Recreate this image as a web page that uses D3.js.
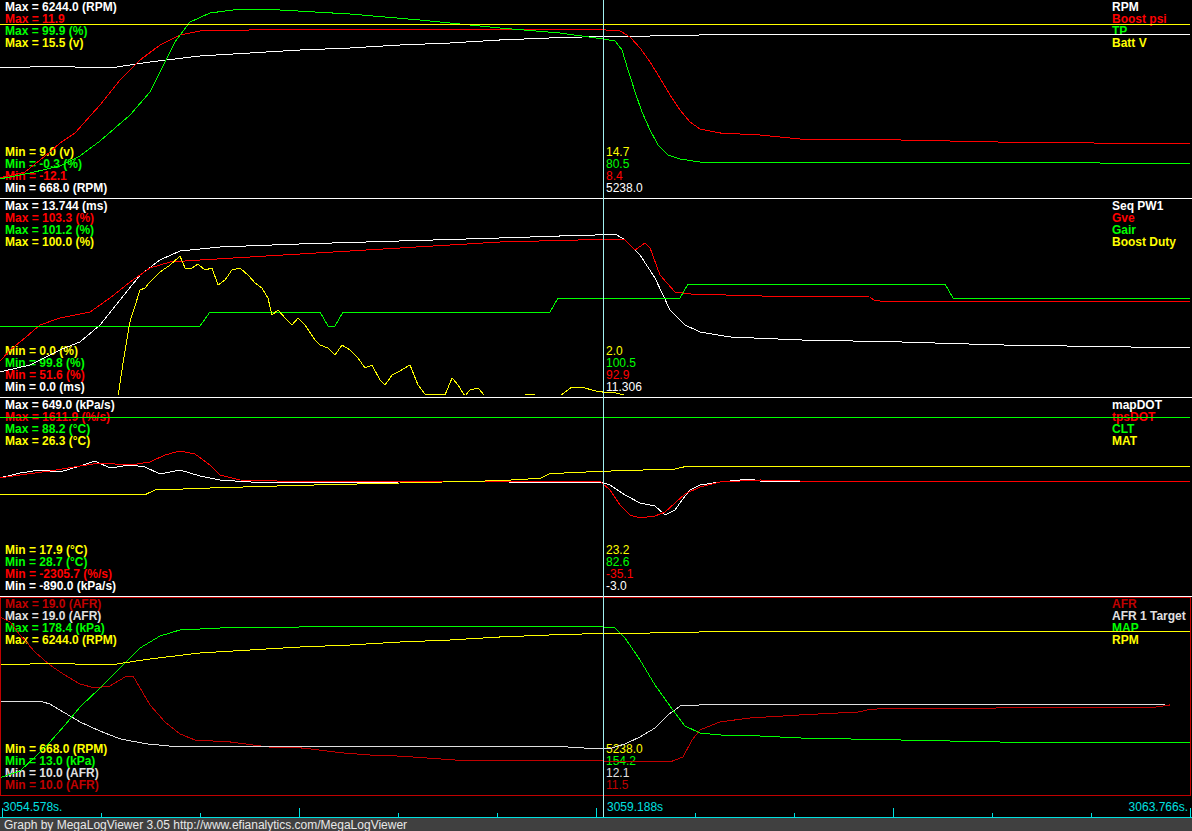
<!DOCTYPE html>
<html><head><meta charset="utf-8">
<script src="https://cdn.jsdelivr.net/npm/d3@7"></script>
<style>
html,body{margin:0;padding:0;background:#000;overflow:hidden;}
svg{display:block;}
text{font-family:"Liberation Sans",Arial,sans-serif;font-size:12px;}
</style></head><body>
<svg id="c" width="1192" height="831"></svg>
<script>
// ---- time axis ----
const startTime = 3054.578;
const cursorTime = 3059.188;
const endTime = 3063.766;
const timeLabels = ["3054.578s.", "3059.188s", "3063.766s."];
const footerText = "Graph by MegaLogViewer 3.05 http://www.efianalytics.com/MegaLogViewer";

// ---- panel 1 : [seconds after start, value] ----
const rpm = [[-0.02,4338],[0.215,4366],[0.445,4395],[0.675,4338],[0.828,4338],[1.135,4509],[1.519,4680],[1.902,4765],[2.286,4850],[2.669,4907],[3.053,4992],[3.436,5049],[3.820,5135],[4.203,5192],[4.610,5238],[4.971,5248],[5.354,5277],[6.121,5277],[6.888,5277],[7.655,5305],[9.113,5305]];
const boostPsi = [[-0.02,-9.77],[0.176,-9.04],[0.368,-6.59],[0.445,-5.49],[0.560,-4.26],[0.752,-0.83],[0.905,2.23],[1.059,4.68],[1.212,6.51],[1.365,7.74],[1.519,8.23],[1.902,8.35],[3.053,8.4],[4.587,8.4],[4.741,8.23],[4.817,7.49],[4.894,6.15],[4.971,4.43],[5.047,2.47],[5.124,0.39],[5.201,-1.45],[5.277,-2.92],[5.354,-3.77],[5.507,-4.26],[5.814,-4.51],[6.121,-5.0],[6.888,-5.12],[7.655,-5.37],[9.113,-5.61]];
const tp = [[-0.02,8.9],[0.215,11.97],[0.445,15.55],[0.598,20.66],[0.752,28.33],[0.982,41.62],[1.135,53.38],[1.212,63.6],[1.327,78.94],[1.442,89.16],[1.595,93.76],[1.826,95.8],[2.132,95.3],[2.669,93.25],[3.206,90.18],[3.820,86.09],[4.280,83.54],[4.610,80.5],[4.703,79.45],[4.756,74.85],[4.802,64.62],[4.856,53.38],[4.909,43.15],[4.971,33.95],[5.032,26.28],[5.109,21.17],[5.201,19.13],[5.354,17.59],[5.737,17.08],[6.121,17.59],[7.655,17.59],[8.422,17.08],[9.113,16.57]];
const battV = [[-0.02,14.72],[4.610,14.72],[9.113,14.72]];

// ---- panel 2 ----
const seqPW1 = [[-0.02,1.68],[0.215,2.17],[0.445,3.23],[0.598,3.79],[0.752,4.98],[0.905,6.73],[1.059,8.48],[1.212,9.54],[1.365,10.17],[1.672,10.45],[2.286,10.66],[3.053,10.87],[3.820,11.08],[4.280,11.22],[4.587,11.30],[4.703,11.36],[4.779,10.94],[4.894,9.89],[5.009,8.27],[5.124,6.03],[5.239,4.98],[5.354,4.49],[5.584,4.14],[6.121,3.93],[6.888,3.79],[7.655,3.58],[9.113,3.37]];
const gve = [[-0.02,60.57],[0.061,63.73],[0.176,66.9],[0.291,70.33],[0.445,72.17],[0.675,73.76],[0.828,77.45],[0.982,81.67],[1.135,85.36],[1.289,86.95],[1.519,87.47],[2.286,89.06],[3.053,90.64],[3.820,92.22],[4.587,92.9],[4.779,92.75],[4.856,90.11],[4.932,91.96],[4.971,90.64],[5.047,83.52],[5.162,79.03],[5.277,78.51],[5.814,77.98],[6.658,77.71],[6.696,76.66],[9.113,76.4]];
const gair = [[-0.02,100.3],[1.519,100.3],[1.595,100.4],[2.439,100.4],[2.501,100.3],[2.554,100.3],[2.616,100.4],[4.203,100.4],[4.265,100.5],[5.201,100.5],[5.262,100.6],[7.233,100.6],[7.295,100.5],[9.113,100.5]];
const boostDuty = [[-0.02,0],[0.890,0],[0.936,20],[0.982,38],[1.059,54.1],[1.097,55.1],[1.135,58.2],[1.212,63.3],[1.289,66.8],[1.365,71.4],[1.404,65.3],[1.457,65.3],[1.503,67.3],[1.557,64.3],[1.611,65.3],[1.657,56.6],[1.711,59.2],[1.764,64.3],[1.826,65.3],[1.887,61.7],[1.941,57.7],[1.994,55.1],[2.040,50.0],[2.071,41.3],[2.117,43.9],[2.171,39.8],[2.224,36.2],[2.271,39.8],[2.324,36.2],[2.401,28.6],[2.439,26.0],[2.501,24.5],[2.554,20.9],[2.608,26.0],[2.669,23.5],[2.731,19.4],[2.784,14.3],[2.838,15.8],[2.899,8.2],[2.938,5.6],[2.992,10.7],[3.037,12.2],[3.091,14.3],[3.130,15.8],[3.191,5.6],[3.245,1.0],[3.321,1.0],[3.398,0.5],[3.452,9.2],[3.498,5.6],[3.551,0],[3.590,3.1],[3.651,4.1],[3.705,0],[3.973,0],[4.050,1.0],[4.127,0],[4.280,0],[4.372,4.6],[4.472,4.1],[4.549,2.6],[4.610,2.0],[4.718,1.5],[4.795,0],[9.113,0]];

// ---- panel 3 ----
const mapDOT = [[-0.02,28.7],[0.138,67.9],[0.291,91.5],[0.445,75.8],[0.598,122.9],[0.713,162.2],[0.828,107.2],[0.982,130.8],[1.097,115.1],[1.212,60.1],[1.365,91.5],[1.519,44.4],[1.672,13],[1.902,-2.7],[2.286,-10.6],[3.053,-2.7],[3.820,-2.7],[4.587,-3.0],[4.664,-26.3],[4.779,-104.8],[4.894,-167.6],[5.009,-191.2],[5.086,-261.8],[5.162,-222.6],[5.216,-144.1],[5.277,-65.5],[5.354,-26.3],[5.507,-2.7],[5.737,20.8],[5.814,5.1],[6.121,-2.7],[7.655,5.1],[9.113,5.1]];
const tpsDOT = [[-0.02,32.9],[0.138,92.9],[0.368,172.8],[0.598,272.8],[0.752,332.7],[0.982,292.7],[1.135,352.7],[1.250,492.6],[1.365,572.6],[1.480,512.6],[1.595,292.7],[1.672,92.9],[1.826,-7.1],[2.286,-40],[4.587,-35.1],[4.664,-207],[4.741,-506.8],[4.817,-706.7],[4.894,-766.6],[5.009,-726.6],[5.086,-646.7],[5.162,-466.8],[5.239,-286.9],[5.354,-147],[5.507,-47.1],[5.814,-7.1],[6.121,-27.1],[9.113,-27.1]];
const clt = [[-0.02,82.6],[4.610,82.6],[9.113,82.6]];
const mat = [[-0.02,22.2],[1.097,22.2],[1.174,22.4],[1.672,22.5],[2.286,22.6],[3.053,22.7],[3.820,22.8],[4.127,22.9],[4.203,23.1],[4.587,23.2],[5.162,23.3],[5.239,23.4],[9.113,23.4]];

// ---- panel 4 ----
const afr = [[-0.02,18.13],[0.061,17.9],[0.138,17.3],[0.253,16.52],[0.368,15.92],[0.483,15.46],[0.598,15.05],[0.713,14.87],[0.828,14.96],[0.943,15.37],[1.005,15.42],[1.059,14.87],[1.135,14.09],[1.250,13.31],[1.365,12.76],[1.480,12.48],[1.749,12.39],[2.040,12.16],[2.309,12.11],[2.623,11.88],[2.823,11.79],[3.053,11.74],[3.475,11.56],[4.587,11.52],[4.848,11.47],[5.124,11.47],[5.224,11.7],[5.293,12.48],[5.354,12.94],[5.507,13.31],[5.737,13.49],[6.121,13.63],[6.581,13.77],[6.658,13.9],[7.655,13.95],[8.652,13.99],[8.806,13.95],[8.959,14.09]];
const afrTarget = [[-0.02,14.27],[0.291,14.27],[0.368,14.13],[0.483,13.72],[0.598,13.31],[0.752,12.89],[0.905,12.53],[1.112,12.3],[1.289,12.2],[4.226,12.2],[4.572,12.07],[4.679,12.11],[4.779,12.3],[4.894,12.62],[5.009,13.03],[5.109,13.63],[5.201,14.04],[5.354,14.09],[8.921,14.09]];
const mapKpa = [[-0.02,26.5],[0.138,32.41],[0.253,44.22],[0.368,56.88],[0.483,71.23],[0.598,86.42],[0.752,102.45],[0.905,119.33],[1.059,136.21],[1.212,146.33],[1.365,151.4],[1.672,153.08],[2.286,153.93],[3.436,153.93],[4.587,154.2],[4.703,153.08],[4.779,144.65],[4.894,126.08],[5.009,104.98],[5.124,87.26],[5.239,70.38],[5.354,64.48],[5.507,62.79],[5.814,61.95],[6.121,60.26],[6.888,58.57],[7.655,56.88],[9.113,56.88]];

// ---- labels ----
const p1Names = ["RPM","Boost psi","TP","Batt V"];
const p1Max = ["6244.0","11.9","99.9","15.5"];
const p1Min = ["668.0","-12.1","-0.3","9.0"];
const p1Units = ["RPM","","%","v"];
const p1Cursor = ["5238.0","8.4","80.5","14.7"];

const p2Names = ["Seq PW1","Gve","Gair","Boost Duty"];
const p2Max = ["13.744","103.3","101.2","100.0"];
const p2Min = ["0.0","51.6","99.8","0.0"];
const p2Units = ["ms","%","%","%"];
const p2Cursor = ["11.306","92.9","100.5","2.0"];

const p3Names = ["mapDOT","tpsDOT","CLT","MAT"];
const p3Max = ["649.0","1611.9","88.2","26.3"];
const p3Min = ["-890.0","-2305.7","28.7","17.9"];
const p3Units = ["kPa/s","%/s","°C","°C"];
const p3Cursor = ["-3.0","-35.1","82.6","23.2"];

const p4Names = ["AFR","AFR 1 Target","MAP","RPM"];
const p4Max = ["19.0","19.0","178.4","6244.0"];
const p4Min = ["10.0","10.0","13.0","668.0"];
const p4Units = ["AFR","AFR","kPa","RPM"];
const p4Cursor = ["11.5","12.1","154.2","5238.0"];

const stdColors = ["#ffffff","#ff0000","#00ff00","#ffff00"];
const p4Colors = ["#c00000","#e0e0e0","#00ff00","#ffff00"];

const panels = [
  {names:p1Names,max:p1Max,min:p1Min,units:p1Units,cursor:p1Cursor,colors:stdColors,series:[rpm,boostPsi,tp,battV]},
  {names:p2Names,max:p2Max,min:p2Min,units:p2Units,cursor:p2Cursor,colors:stdColors,series:[seqPW1,gve,gair,boostDuty]},
  {names:p3Names,max:p3Max,min:p3Min,units:p3Units,cursor:p3Cursor,colors:stdColors,series:[mapDOT,tpsDOT,clt,mat]},
  {names:p4Names,max:p4Max,min:p4Min,units:p4Units,cursor:p4Cursor,colors:p4Colors,series:[afr,afrTarget,mapKpa,rpm]}
];

const W = 1192, PH = 199;
const svg = d3.select("#c");
svg.append("rect").attr("width",W).attr("height",831).attr("fill","#000");
const defs = svg.append("defs");

const x = d3.scaleLinear().domain([startTime, cursorTime]).range([2, 603]);
const xAxis = d3.scaleLinear().domain([startTime, endTime]).range([2, 1190]);
const cursorColor = "#a0f0f0";
const axisColor = "#00e0e0";

const unitStr = u => u ? ` (${u})` : "";

panels.forEach((p, i) => {
  const top = i * PH;
  const g = svg.append("g");
  defs.append("clipPath").attr("id","clip"+i).append("rect")
    .attr("x",0).attr("y",top).attr("width",W).attr("height",196);
  p.names.forEach((n, k) => {
    g.append("text").attr("x",5).attr("y",top+11+12*k).attr("fill",p.colors[k])
      .attr("font-weight","bold").text(`Max = ${p.max[k]}${unitStr(p.units[k])}`);
    g.append("text").attr("x",1112).attr("y",top+11+12*k).attr("fill",p.colors[k])
      .attr("font-weight","bold").text(n);
    g.append("text").attr("x",5).attr("y",top+192-12*k).attr("fill",p.colors[k])
      .attr("font-weight","bold").text(`Min = ${p.min[k]}${unitStr(p.units[k])}`);
    g.append("text").attr("x",606).attr("y",top+192-12*k).attr("fill",p.colors[k])
      .text(p.cursor[k]);
  });
  p.series.forEach((s, k) => {
    const y = d3.scaleLinear().domain([+p.min[k], +p.max[k]]).range([top+197, top+1]);
    const line = d3.line().x(d => x(startTime + d[0])).y(d => y(d[1]));
    g.append("path").datum(s).attr("clip-path",`url(#clip${i})`)
      .attr("fill","none").attr("stroke",p.colors[k]).attr("stroke-width",1)
      .attr("shape-rendering","crispEdges").attr("d",line);
  });
  if (i < 3) {
    svg.append("line").attr("x1",0).attr("x2",W).attr("y1",top+198.5).attr("y2",top+198.5)
      .attr("stroke","#fff").attr("stroke-width",1);
  }
});
// selected panel border
svg.append("rect").attr("x",0.5).attr("y",3*PH+0.5).attr("width",1190).attr("height",198)
  .attr("fill","none").attr("stroke","#c00000").attr("stroke-width",1);

// time axis strip
const ax = svg.append("g");
ax.append("line").attr("x1",0).attr("x2",W).attr("y1",817.5).attr("y2",817.5).attr("stroke",axisColor);
const tickVals = d3.range(13).map(j => startTime + j*(endTime-startTime)/12);
tickVals.forEach((t, j) => {
  const tx = Math.round(xAxis(t)) + 0.5;
  ax.append("line").attr("x1",tx).attr("x2",tx).attr("y1",817).attr("y2", j%3===0 ? 808 : 813)
    .attr("stroke",axisColor);
});
ax.append("text").attr("x",3).attr("y",811).attr("fill",axisColor).text(timeLabels[0]);
ax.append("text").attr("x",x(cursorTime)+4).attr("y",811).attr("fill",axisColor).text(timeLabels[1]);
ax.append("text").attr("x",1188).attr("y",811).attr("fill",axisColor).attr("text-anchor","end").text(timeLabels[2]);

// cursor
const cx = Math.round(x(cursorTime)) + 0.5;
svg.append("line").attr("x1",cx).attr("x2",cx).attr("y1",0).attr("y2",817)
  .attr("stroke",cursorColor).attr("stroke-width",1);

// footer
svg.append("rect").attr("x",0).attr("y",818).attr("width",W).attr("height",13).attr("fill","#404040");
svg.append("text").attr("x",4).attr("y",829).attr("fill","#e8e8e8").text(footerText);
</script>
</body></html>
